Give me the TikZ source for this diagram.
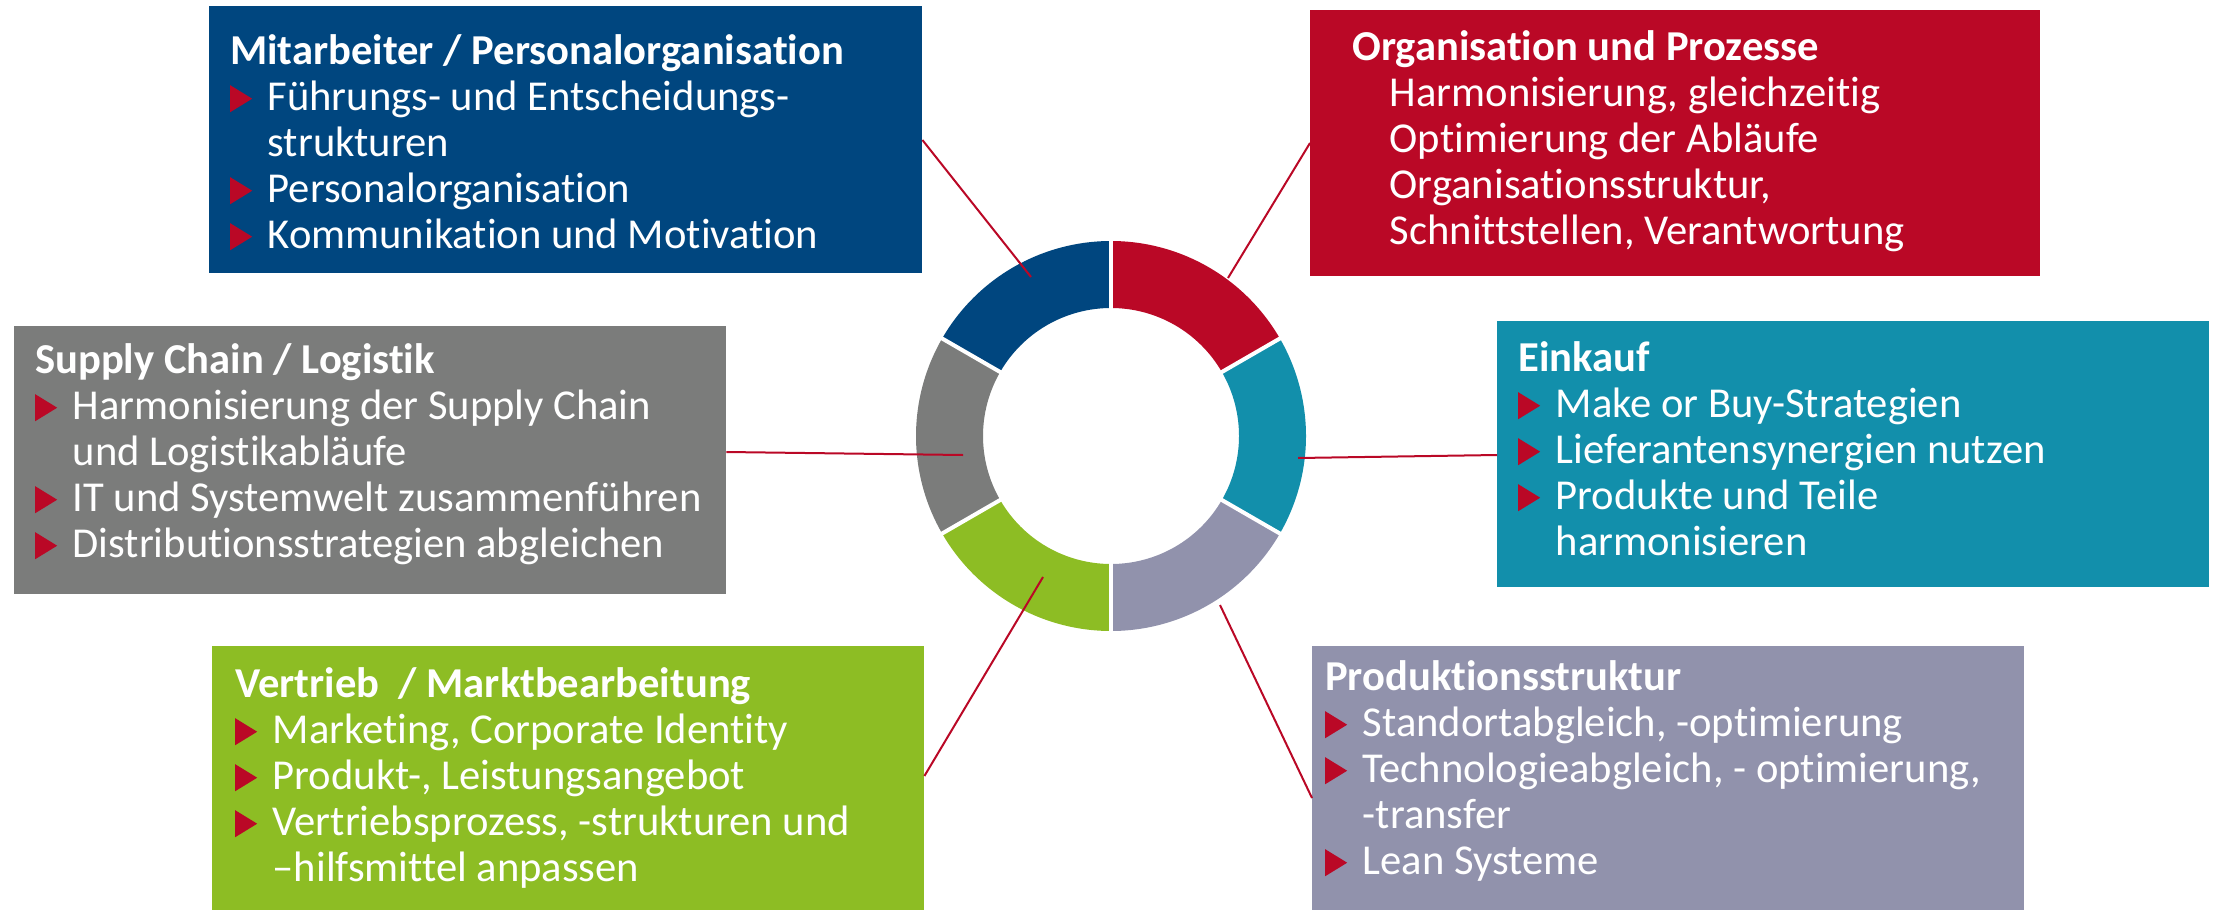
\documentclass[tikz,border=0pt]{standalone}
\usepackage{fontspec}
\setmainfont{Carlito}[Ligatures=NoCommon]

\definecolor{mitblau}{RGB}{0,70,127}
\definecolor{orgrot}{RGB}{186,8,38}
\definecolor{supplygrau}{RGB}{123,124,123}
\definecolor{einkaufteal}{RGB}{18,143,171}
\definecolor{vertriebgruen}{RGB}{141,189,36}
\definecolor{prodlila}{RGB}{145,146,172}

\newcommand\tri{\tikz[baseline=0pt,x=1pt,y=1pt]\fill[orgrot] (0,-2) -- (22,11.5) -- (0,25) -- cycle;}
\newcommand\bul[1]{\makebox[37.5pt][l]{\tri}#1}
\newcommand\cont[1]{\hspace*{37.5pt}#1}
\newcommand\firstline{\rule{0pt}{40pt}}

\begin{document}
\begin{tikzpicture}[x=1pt,y=1pt,
    box/.style={anchor=north west, inner sep=0pt, minimum width=712pt},
    txt/.style={anchor=north west, inner sep=0pt, align=left, text=white, font=\fontsize{42.6}{46}\selectfont},
    conn/.style={draw=orgrot, line width=2pt}]
    \useasboundingbox (0,0) rectangle (2216,-910);

    % boxes
    \node[box, fill=mitblau, minimum width=713pt, minimum height=267pt] (mitarbeiter) at (209,-6) {};
    \node[box, fill=orgrot, minimum width=730pt, minimum height=266pt] (organisation) at (1310,-10) {};
    \node[box, fill=supplygrau, minimum height=268pt] (supply) at (14,-326) {};
    \node[box, fill=einkaufteal, minimum height=266pt] (einkauf) at (1497,-321) {};
    \node[box, fill=vertriebgruen, minimum height=264pt] (vertrieb) at (212,-646) {};
    \node[box, fill=prodlila, minimum height=264pt] (produktion) at (1312,-646) {};

    \node[txt] (mitarbeiter-txt) at (230,-24) {\firstline\textbf{Mitarbeiter / Personalorganisation}\\
        \bul{Führungs- und Entscheidungs-}\\ \cont{strukturen}\\
        \bul{Personalorganisation}\\ \bul{Kommunikation und Motivation}};
    \node[txt] (organisation-txt) at (1352,-20) {\firstline\textbf{Organisation und Prozesse}\\
        \cont{Harmonisierung, gleichzeitig}\\ \cont{Optimierung der Abläufe}\\
        \cont{Organisationsstruktur,}\\ \cont{Schnittstellen, Verantwortung}};
    \node[txt] (supply-txt) at (35,-333) {\firstline\textbf{Supply Chain / Logistik}\\
        \bul{Harmonisierung der Supply Chain}\\ \cont{und Logistikabläufe}\\
        \bul{IT und Systemwelt zusammenführen}\\ \bul{Distributionsstrategien abgleichen}};
    \node[txt] (einkauf-txt) at (1518,-331) {\firstline\textbf{Einkauf}\\
        \bul{Make or Buy-Strategien}\\ \bul{Lieferantensynergien nutzen}\\
        \bul{Produkte und Teile}\\ \cont{harmonisieren}};
    \node[txt] (vertrieb-txt) at (235,-657) {\firstline\textbf{Vertrieb\ \ / Marktbearbeitung}\\
        \bul{Marketing, Corporate Identity}\\ \bul{Produkt-, Leistungsangebot}\\
        \bul{Vertriebsprozess, -strukturen und}\\ \cont{–hilfsmittel anpassen}};
    \node[txt] (produktion-txt) at (1325,-650) {\firstline\textbf{Produktionsstruktur}\\
        \bul{Standortabgleich, -optimierung}\\ \bul{Technologieabgleich, - optimierung,}\\
        \cont{-transfer}\\ \bul{Lean Systeme}};

    % ring
    \begin{scope}[shift={(1111,-436)}]
        \foreach \a/\b/\c in {30/90/orgrot, -30/30/einkaufteal, -90/-30/prodlila, -150/-90/vertriebgruen, 150/210/supplygrau, 90/150/mitblau}
            \fill[\c] (\a:128) arc (\a:\b:128) -- (\b:195) arc (\b:\a:195) -- cycle;
        \foreach \a in {30,90,...,330}
            \draw[white, line width=4pt] (\a:120) -- (\a:200);
    \end{scope}

    \coordinate (mitarbeiter-end) at (1031,-277);
    \coordinate (organisation-end) at (1228,-278);
    \coordinate (supply-end) at (963,-455);
    \coordinate (einkauf-end) at (1298,-458);
    \coordinate (vertrieb-end) at (1043,-577);
    \coordinate (produktion-end) at (1220,-605);

    \draw[conn] ([yshift=-134pt]mitarbeiter.north east) -- (mitarbeiter-end);
    \draw[conn] ([yshift=-133pt]organisation.north west) -- (organisation-end);
    \draw[conn] ([yshift=-126pt]supply.north east) -- (supply-end);
    \draw[conn] ([yshift=-134pt]einkauf.north west) -- (einkauf-end);
    \draw[conn] ([yshift=-130pt]vertrieb.north east) -- (vertrieb-end);
    \draw[conn] ([yshift=-152pt]produktion.north west) -- (produktion-end);
\end{tikzpicture}
\end{document}
